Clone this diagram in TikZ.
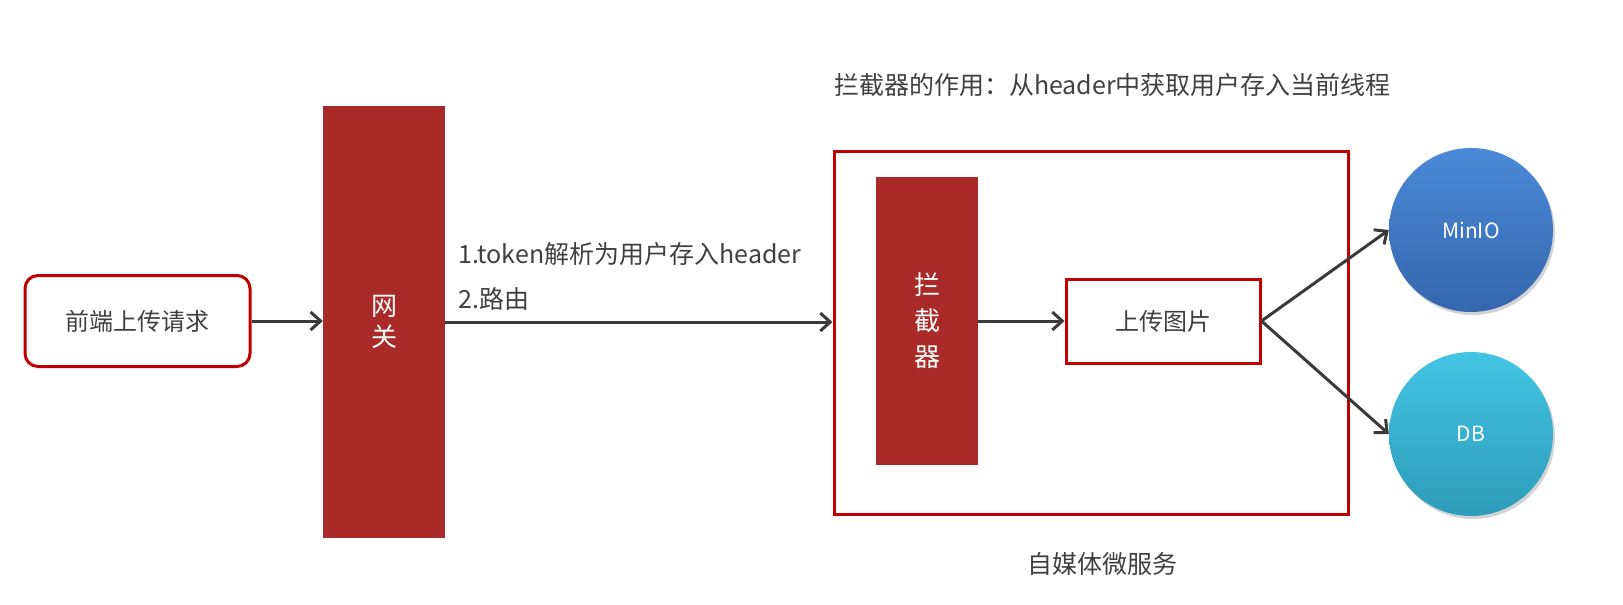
\documentclass[tikz,border=0pt]{standalone}
\usepackage{fontspec}
\newfontfamily\cjk{Noto Sans CJK SC}
\usetikzlibrary{arrows.meta,shadows,calc}
\definecolor{brick}{HTML}{A92A27}
\definecolor{redline}{HTML}{C00000}
\definecolor{txt}{HTML}{404040}
\definecolor{arr}{HTML}{3A3A3A}
\definecolor{blueT}{HTML}{4A8AD8}
\definecolor{blueB}{HTML}{3566AE}
\definecolor{cyanT}{HTML}{44C4E4}
\definecolor{cyanB}{HTML}{2C9CBA}
\tikzset{
  base/.style={font={\cjk\fontsize{24}{30}\selectfont}, text=txt, inner sep=0pt},
  bar/.style={base, fill=brick, draw=none, text=white},
  redbox/.style={base, draw=redline, line width=3pt},
  ball/.style={circle, minimum size=164pt, inner sep=0pt, draw=none, text=white,
     font={\cjk\fontsize{21}{24}\selectfont},
     drop shadow={opacity=0.35, shadow xshift=2pt, shadow yshift=-3pt}},
  conn/.style={draw=arr, line width=3pt, -{Straight Barb[length=10pt,width=18pt,line width=3pt]}},
  lbl/.style={base, font={\cjk\fontsize{25}{30}\selectfont}}
}
\begin{document}
\begin{tikzpicture}[x=1pt,y=-1pt]
\useasboundingbox (0,0) rectangle (1623,605);
% nodes
\node[redbox, rounded corners=13pt, minimum width=225pt, minimum height=91pt] (front) at (137.5,321) {前端上传请求};
\node[bar, minimum width=122pt, minimum height=432pt, align=center, font={\cjk\fontsize{26}{31}\selectfont}] (gw) at (384,322) {网\\关};
\node[redbox, minimum width=514pt, minimum height=363pt] (svc) at (1091,332.5) {};
\node[bar, minimum width=102pt, minimum height=288pt, align=center, font={\cjk\fontsize{26}{36}\selectfont}] (interc) at (927,321) {拦\\截\\器};
\node[redbox, minimum width=194pt, minimum height=84pt] (upload) at (1163,321) {上传图片};
\node[ball, top color=blueT, bottom color=blueB] (minio) at (1471,230) {MinIO};
\node[ball, top color=cyanT, bottom color=cyanB] (db) at (1471,434) {DB};
% texts
\node[lbl, anchor=west] (title) at (834,85) {拦截器的作用：从header中获取用户存入当前线程};
\node[lbl, anchor=west] (lab1) at (458,254) {1.token解析为用户存入header};
\node[lbl, anchor=west] (lab2) at (458,299) {2.路由};
\node[lbl] (svclabel) at (1102,564) {自媒体微服务};
% connectors
\draw[conn] (front.east) -- (gw.west |- front.east);
\draw[conn] (gw.east) -- (gw.east -| svc.west);
\draw[conn] (interc.east) -- (upload.west);
\draw[conn] (upload.east) -- (minio.west);
\draw[conn] (upload.east) -- (db.west);
\end{tikzpicture}
\end{document}
